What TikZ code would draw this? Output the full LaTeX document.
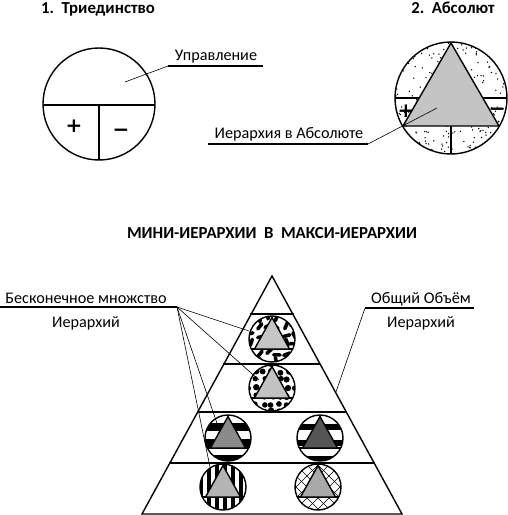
\documentclass[tikz,border=0pt]{standalone}
\usepackage{fontspec}
\setmainfont{Carlito}
\newfontfamily\signfont{DejaVu Sans}
\definecolor{triA}{HTML}{C4C4C4}
\definecolor{triB}{HTML}{C6C6C6}
\definecolor{triC}{HTML}{C2C2C2}
\definecolor{triD}{HTML}{8A8A8A}
\definecolor{triE}{HTML}{555555}
\definecolor{triF}{HTML}{B4B4B4}
\definecolor{triG}{HTML}{A9A9A9}
\newcommand\minicirc[4]{% cx, cy, fill colour, pattern code (local coords)
  \begin{scope}
    \clip (#1,#2) circle[radius=23];
    \begin{scope}[shift={(#1,#2)}]
      #4
    \end{scope}
    \draw[outl] ({#1-25},{#2+10}) -- ({#1+25},{#2+10});
  \end{scope}
  \filldraw[outl, fill=#3, line join=miter] ({#1},{#2-21.5}) -- ({#1-17.5},{#2+10}) -- ({#1+17.5},{#2+10}) -- cycle;
  \draw[outl] (#1,#2) circle[radius=23];
}
\begin{document}
\begin{tikzpicture}[x=1pt,y=-1pt,
  lbl/.style={font=\fontsize{16.2}{19}\selectfont, inner sep=0pt, anchor=base},
  ttl/.style={font=\fontsize{16.8}{19}\selectfont\bfseries, inner sep=0pt, anchor=base},
  sign/.style={font=\signfont\fontsize{20}{22}\selectfont\bfseries, inner sep=0pt, anchor=base},
  leader/.style={line width=0.6pt},
  uline/.style={line width=1.8pt},
  outl/.style={line width=1.4pt},
  bar/.style={line width=2pt}]
\useasboundingbox (0,0) rectangle (508,515);

% ---------- 1. Triedinstvo ----------
\node[ttl] (t1) at (98,13) {1.\ \ Триединство};
\draw[outl] (99,104) circle[radius=56];
\draw[outl] (43,105) -- (155,105);
\draw[outl] (99,105) -- (99,160);
\node[sign] (plus1) at (74,132.5) {+};
\node[sign] (minus1) at (121,136.5) {−};
\coordinate (uprL) at (168,66);
\coordinate (uprR) at (263,66);
\coordinate (uprP) at (125,82);
\draw[uline] (uprL) -- (uprR);
\node[lbl] (upr) at (216,60) {Управление};
\draw[leader] (uprL) -- (uprP);

% ---------- 2. Absolut ----------
\node[ttl] (t2) at (453,13) {2.\ \ Абсолют};
\begin{scope}
  \clip (451,98) circle[radius=56];
  \pgfmathsetseed{7}
  \foreach \i in {1,...,210}{
    \pgfmathsetmacro\qa{rnd*360}
    \pgfmathsetmacro\qr{56*sqrt(rnd)}
    \fill ({451+\qr*cos(\qa)},{98+\qr*sin(\qa)}) circle[radius=0.75];
  }
\end{scope}
\draw[outl] (395,98) -- (507,98);
\draw[outl] (451,126) -- (451,154);
\filldraw[outl, fill=triA, line join=miter] (451,43) -- (403,126) -- (499,126) -- cycle;
\draw[outl] (451,98) circle[radius=56];
\node[sign] (plus2) at (406,117) {+};
\node[sign] (minus2) at (497,115.5) {−};
\coordinate (iaL) at (208,144);
\coordinate (iaR) at (368,144);
\coordinate (iaP) at (437,108);
\draw[uline] (iaL) -- (iaR);
\node[lbl] (ia) at (289,138) {Иерархия в Абсолюте};
\draw[leader] (iaR) -- (iaP);

% ---------- title ----------
\node[ttl] (mt) at (272,238) {МИНИ-ИЕРАРХИИ\ \ В\ \ МАКСИ-ИЕРАРХИИ};

% ---------- pyramid ----------
\coordinate (pA) at (272,276);
\coordinate (pL) at (142,514);
\coordinate (pR) at (402,514);
\draw[outl, line join=miter] (pL) -- (pA) -- (pR) -- cycle;
\draw[bar] (250,314) -- (294,314);
\draw[bar] (223,364) -- (320,364);
\draw[bar] (197,412) -- (347,412);
\draw[bar] (169,463) -- (375,463);

% level 1 : strokes
\minicirc{272}{339}{triB}{
  \pgfmathsetseed{3}
  \foreach \gx in {-22,-13,...,26}{
    \foreach \gy in {-22,-13,...,26}{
      \pgfmathsetmacro\qx{\gx+rnd*4-2}
      \pgfmathsetmacro\qy{\gy+rnd*4-2}
      \pgfmathsetmacro\qa{rnd*180}
      \draw[line width=3.6pt, line cap=round] ({\qx-3.2*cos(\qa)},{\qy-3.2*sin(\qa)}) -- ({\qx+3.2*cos(\qa)},{\qy+3.2*sin(\qa)});
    }
  }
}
% level 2 : blobs
\minicirc{272}{388}{triC}{
  \pgfmathsetseed{11}
  \foreach \gx in {-24,-16,...,25}{
    \foreach \gy in {-24,-16,...,25}{
      \pgfmathsetmacro\qx{\gx+rnd*3-1.5}
      \pgfmathsetmacro\qy{\gy+rnd*3-1.5}
      \pgfmathsetmacro\qs{2.6+rnd*0.8}
      \fill (\qx,\qy) circle[radius=\qs];
    }
  }
}
% level 3 : horizontal stripes
\minicirc{228}{438}{triD}{
  \foreach \yy in {-31,-15,1,17}{\fill (-25,\yy) rectangle (25,\yy+8);}
}
\minicirc{320}{438}{triE}{
  \foreach \yy in {-14,2,18}{\fill (-25,\yy) rectangle (25,\yy+6);}
}
% level 4 : vertical stripes and cross-hatch
\minicirc{223}{487}{triF}{
  \foreach \xx in {-24,-16,...,24}{\fill (\xx,-25) rectangle (\xx+4,25);}
}
\minicirc{318}{487}{triG}{
  \foreach \k in {-55,-44,...,55}{
    \draw[line width=0.6pt] (\k-30,-30) -- (\k+30,30);
    \draw[line width=0.6pt] (\k+30,-30) -- (\k-30,30);
  }
}

% ---------- labels of the pyramid ----------
\coordinate (bmL) at (0,307);
\coordinate (fan) at (177,307);
\draw[uline] (bmL) -- (fan);
\node[lbl] (bm) at (86,303) {Бесконечное множство};
\node[lbl] (bm2) at (86,327) {Иерархий};
\coordinate (f1) at (249,331);
\coordinate (f2) at (259,380);
\coordinate (f3) at (220,432);
\coordinate (f4) at (210,467);
\draw[leader] (fan) -- (f1);
\draw[leader] (fan) -- (f2);
\draw[leader] (fan) -- (f3);
\draw[leader] (fan) -- (f4);

\coordinate (ovL) at (365,308);
\coordinate (ovR) at (474,308);
\coordinate (ovP) at (336,392);
\draw[uline] (ovL) -- (ovR);
\node[lbl] (ov) at (421,303) {Общий Объём};
\node[lbl] (ov2) at (421,327) {Иерархий};
\draw[leader] (ovL) -- (ovP);
\end{tikzpicture}
\end{document}
